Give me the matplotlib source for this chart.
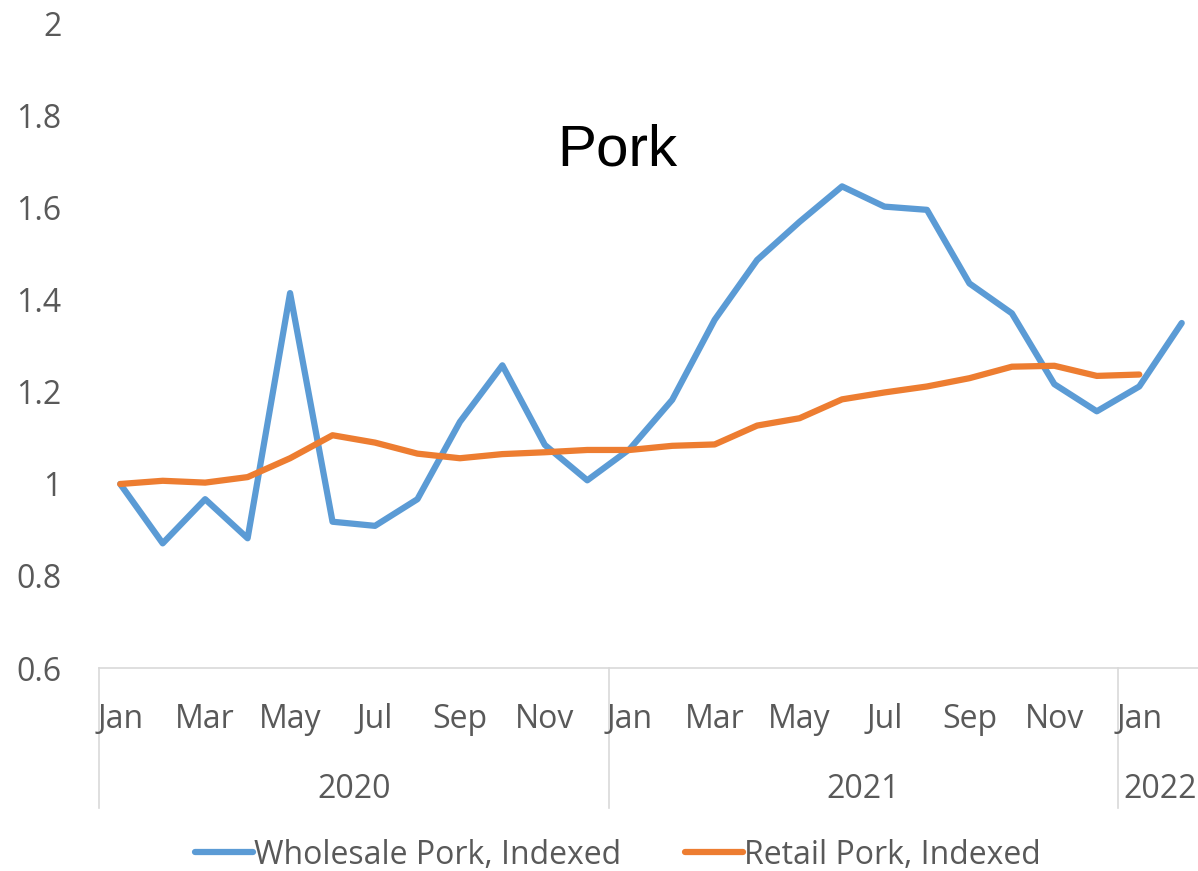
import matplotlib
matplotlib.use("Agg")
import matplotlib.pyplot as plt
import matplotlib.transforms as mtransforms

# ---- data ----
months = ["Jan", "Feb", "Mar", "Apr", "May", "Jun", "Jul", "Aug", "Sep", "Oct", "Nov", "Dec",
          "Jan", "Feb", "Mar", "Apr", "May", "Jun", "Jul", "Aug", "Sep", "Oct", "Nov", "Dec",
          "Jan", "Feb"]
years = ["2020", "2021", "2022"]
year_sizes = [12, 12, 2]

wholesale = [1.000, 0.871, 0.967, 0.882, 1.415, 0.918, 0.909, 0.967, 1.135, 1.258, 1.085, 1.008,
             1.076, 1.183, 1.357, 1.487, 1.570, 1.647, 1.603, 1.596, 1.436, 1.371, 1.217, 1.158,
             1.212, 1.350]
retail = [1.000, 1.007, 1.003, 1.015, 1.056, 1.106, 1.090, 1.066, 1.056, 1.065, 1.069, 1.074,
          1.074, 1.083, 1.086, 1.127, 1.143, 1.184, 1.199, 1.212, 1.230, 1.255, 1.257, 1.235,
          1.238]
yticks = [0.6, 0.8, 1.0, 1.2, 1.4, 1.6, 1.8, 2.0]
ytick_labels = ["0.6", "0.8", "1", "1.2", "1.4", "1.6", "1.8", "2"]

BLUE = "#5B9BD5"
ORANGE = "#ED7D31"
GRAY = "#595959"
LIGHT = "#D9D9D9"
TICKFONT = ["Open Sans", "DejaVu Sans"]

W, H = 1198, 871
fig = plt.figure(figsize=(W / 100, H / 100), dpi=100)
ax = fig.add_axes([99 / W, (H - 668) / H, (W - 99) / W, (668 - 24) / H])

x_w = list(range(len(wholesale)))
x_r = list(range(len(retail)))
ax.plot(x_w, wholesale, color=BLUE, lw=4.5, solid_joinstyle="round", solid_capstyle="round",
        label="Wholesale Pork, Indexed")
ax.plot(x_r, retail, color=ORANGE, lw=4.5, solid_joinstyle="round", solid_capstyle="round",
        label="Retail Pork, Indexed")

ax.set_xlim(-0.5, (W - 99) / 42.46 - 0.5)
ax.set_ylim(0.6, 2.0)

for s in ["top", "right", "left"]:
    ax.spines[s].set_visible(False)
ax.spines["bottom"].set_color(LIGHT)
ax.spines["bottom"].set_linewidth(1.2)

ax.set_yticks(yticks)
ax.set_yticklabels(ytick_labels, fontsize=23, color=GRAY, family=TICKFONT)
ax.tick_params(axis="y", length=0, pad=27)

ax.set_xticks([])
trans = mtransforms.blended_transform_factory(ax.transData, ax.transAxes)
for i, m in enumerate(months):
    if i % 2 == 0:
        ax.text(i, (668 - 719) / 644, m, transform=trans, ha="center", va="center",
                fontsize=23, color=GRAY, family=TICKFONT)

start = 0
bounds = [-0.5]
for yname, n in zip(years, year_sizes):
    center = start + (n - 1) / 2
    if yname == "2022":
        center = start + 0.5
    ax.text(center, (668 - 789) / 644, yname, transform=trans, ha="center", va="center",
            fontsize=23, color=GRAY, family=TICKFONT)
    start += n
    bounds.append(start - 0.5)
for b in bounds:
    ax.plot([b, b], [0, (668 - 808) / 644], transform=trans, color=LIGHT, lw=1.2,
            clip_on=False)

fig.text(617 / W, (H - 150) / H, "Pork", ha="center", va="center", fontsize=42,
         color="black", family=["Liberation Sans", "DejaVu Sans"])

leg = fig.legend(loc="center", bbox_to_anchor=(618 / W, (H - 855) / H), ncol=2, frameon=False,
                 prop={"family": TICKFONT, "size": 23}, handlelength=1.8, handletextpad=0.05,
                 columnspacing=2.0)
for t in leg.get_texts():
    t.set_color(GRAY)

fig.savefig("out.png", dpi=100)
